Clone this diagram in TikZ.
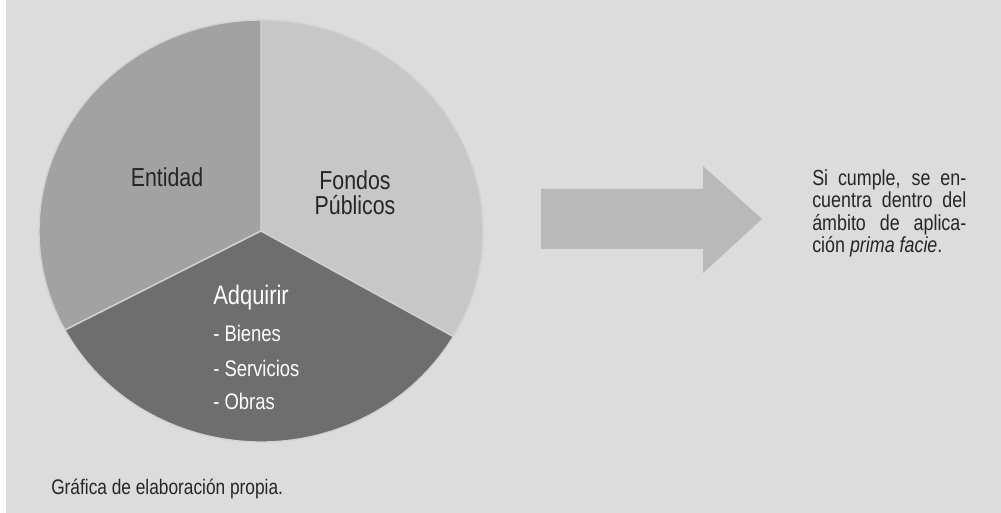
\documentclass[tikz,border=0pt]{standalone}
\usepackage{fontspec}
\usepackage{tikz}
\usetikzlibrary{calc,positioning}
\newfontfamily\narrowfont[FakeStretch=0.82]{Liberation Sans}
\definecolor{fondo}{HTML}{DCDCDC}
\definecolor{costura}{HTML}{D2D2D2}
\definecolor{grisEntidad}{HTML}{A2A2A2}
\definecolor{grisFondos}{HTML}{C7C7C7}
\definecolor{grisAdquirir}{HTML}{6E6E6E}
\definecolor{grisFlecha}{HTML}{B9B9B9}
\definecolor{texto}{HTML}{262626}

\begin{document}
\begin{tikzpicture}[x=0.025cm,y=0.025cm,
    every node/.style={inner sep=0pt, text=texto},
    etiqueta/.style={font=\narrowfont\fontsize{18.5}{17.5}\selectfont, align=center},
    lista/.style={font=\narrowfont\fontsize{16}{16}\selectfont, text=white, anchor=base west},
    sector/.style={draw=costura, line width=1pt}]
\useasboundingbox (0,0) rectangle (1001,513);
\fill[fondo] (6,0) rectangle (1001,513);
% pastel en tres partes
\coordinate (C) at (261,282);
\filldraw[sector, fill=grisFondos] (C) -- ++(0,211) arc[start angle=90, end angle=-30, x radius=222, y radius=211] -- cycle;
\filldraw[sector, fill=grisEntidad] (C) -- ++(0,211) arc[start angle=90, end angle=208, x radius=222, y radius=211] -- cycle;
\filldraw[sector, fill=grisAdquirir] (C) -- ($(C)+(208:222 and 211)$) arc[start angle=208, end angle=330, x radius=222, y radius=211] -- cycle;
\node[etiqueta] (entidad) at (167,336) {Entidad};
\node[etiqueta] (fondos) at (355,320) {Fondos\\Públicos};
\node[lista, font=\narrowfont\fontsize{19}{16}\selectfont] (adquirir) at (213,208) {Adquirir};
\node[lista] (bienes) at (213,171) {- Bienes};
\node[lista] (servicios) at (213,136) {- Servicios};
\node[lista] (obras) at (213,103) {- Obras};
% flecha
\fill[grisFlecha] (541,324) -- (703,324) -- (703,347) -- (762,294) -- (703,240) -- (703,264) -- (541,264) -- cycle;
\node[anchor=north west, text width=3.85cm, align=justify,
      font=\narrowfont\fontsize{15.5}{16}\selectfont] (cumple) at (812,344)
  {Si cumple, se en-\linebreak cuentra dentro del\linebreak ámbito de aplica-\linebreak ción \textit{prima facie}.};
\node[anchor=base west, font=\narrowfont\fontsize{15}{15}\selectfont] (grafica) at (51,18) {Gráfica de elaboración propia.};
\end{tikzpicture}
\end{document}
